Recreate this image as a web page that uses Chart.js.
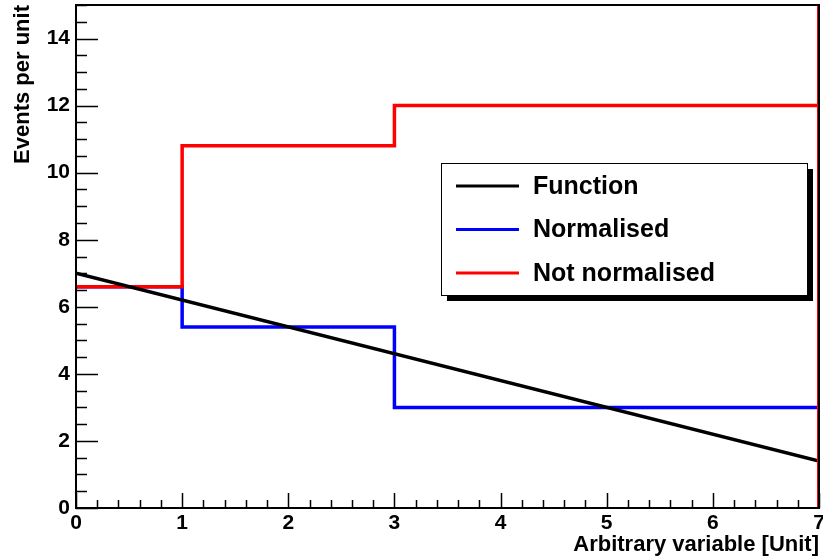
<!DOCTYPE html>
<html>
<head>
<meta charset="utf-8">
<script src="https://cdn.jsdelivr.net/npm/chart.js@4/dist/chart.umd.min.js"></script>
<style>
  html, body { margin: 0; padding: 0; background: #fff; }
  #wrap { width: 823px; height: 559px; }
</style>
</head>
<body>
<div id="wrap"><canvas id="myChart" width="823" height="559"></canvas></div>
<script>
// histogram bin edges and contents
const binEdges = [0, 1, 3, 7];
const normalised = [6.6, 5.4, 3.0];
const notNormalised = [6.6, 10.8, 12.0];

// straight line function, sampled at its two ends
const funcX = [0, 7];
const funcY = [7.0, 1.4];

const seriesNames = ['Function', 'Normalised', 'Not normalised'];
const xTitle = 'Arbitrary variable [Unit]';
const yTitle = 'Events per unit';

const FONT = '"Liberation Sans", Arial, Helvetica, sans-serif';

// bin contents -> one point at each low edge, last value repeated at the top edge
// (stepped:'before' draws the flat part first, so each bin is one segment)
function stepPoints(edges, values) {
    return edges.map((e, i) => ({ x: e, y: values[Math.min(i, values.length - 1)] }));
}

const data = {
    datasets: [
        {
            label: seriesNames[0],
            data: funcX.map((x, i) => ({ x: x, y: funcY[i] })),
            borderColor: '#000000',
            borderWidth: 3.5,
            pointRadius: 0,
            order: 0
        },
        {
            label: seriesNames[1],
            data: stepPoints(binEdges, normalised),
            borderColor: '#0000ff',
            borderWidth: 3.5,
            pointRadius: 0,
            stepped: 'before',
            order: 2
        },
        {
            label: seriesNames[2],
            data: stepPoints(binEdges, notNormalised),
            borderColor: '#ff0000',
            borderWidth: 3.5,
            pointRadius: 0,
            stepped: 'before',
            order: 1
        }
    ]
};

// frame, inward tick marks, axis titles and the ROOT style legend box
const rootStyle = {
    id: 'rootStyle',
    afterDatasetsDraw(chart) {
        const ctx = chart.ctx;
        const a = chart.chartArea;
        const xs = chart.scales.x, ys = chart.scales.y;
        ctx.save();

        // thin red outline of the histogram along bottom and right
        ctx.strokeStyle = '#ff0000';
        ctx.lineWidth = 1;
        ctx.beginPath();
        ctx.moveTo(a.left + 10, a.bottom - 0.5);
        ctx.lineTo(a.right - 1.5, a.bottom - 0.5);
        ctx.lineTo(a.right - 1.5, a.top);
        ctx.stroke();

        // frame
        ctx.strokeStyle = '#000';
        ctx.lineWidth = 2;
        ctx.strokeRect(a.left, a.top, a.right - a.left, a.bottom - a.top);

        // x ticks (major every 1, minor every 0.2)
        ctx.lineWidth = 1.5;
        ctx.beginPath();
        for (let i = 0; i <= 35; i++) {
            const px = Math.round(xs.getPixelForValue(i * 0.2)) + 0.5;
            const len = i % 5 === 0 ? 15 : 8;
            ctx.moveTo(px, a.bottom);
            ctx.lineTo(px, a.bottom - len);
        }
        // y ticks (major every 2, minor every 0.5)
        for (let i = 0; i <= 30; i++) {
            const py = Math.round(ys.getPixelForValue(i * 0.5)) + 0.5;
            const len = i % 4 === 0 ? 22 : 11;
            ctx.moveTo(a.left, py);
            ctx.lineTo(a.left + len, py);
        }
        ctx.stroke();

        // axis titles
        ctx.fillStyle = '#000';
        ctx.font = 'bold 22px ' + FONT;
        ctx.textAlign = 'right';
        ctx.textBaseline = 'alphabetic';
        ctx.fillText(xTitle, a.right, 551);

        ctx.save();
        ctx.translate(29, a.top);
        ctx.rotate(-Math.PI / 2);
        ctx.textAlign = 'right';
        ctx.fillText(yTitle, 0, 0);
        ctx.restore();

        // legend box with shadow
        const bx = 441, by = 163, bw = 366, bh = 132;
        ctx.fillStyle = '#000';
        ctx.fillRect(bx + 6, by + 6, bw, bh);
        ctx.fillStyle = '#fff';
        ctx.fillRect(bx, by, bw, bh);
        ctx.lineWidth = 1;
        ctx.strokeStyle = '#000';
        ctx.strokeRect(bx + 0.5, by + 0.5, bw, bh);

        ctx.font = 'bold 25px ' + FONT;
        ctx.textAlign = 'left';
        ctx.textBaseline = 'middle';
        chart.data.datasets.forEach((ds, i) => {
            const yy = 186 + i * 43.5;
            ctx.strokeStyle = ds.borderColor;
            ctx.lineWidth = 3;
            ctx.beginPath();
            ctx.moveTo(456, yy);
            ctx.lineTo(519, yy);
            ctx.stroke();
            ctx.fillStyle = '#000';
            ctx.fillText(ds.label, 533, yy + 1);
        });

        ctx.restore();
    }
};

const options = {
    responsive: false,
    animation: false,
    layout: { padding: { top: 5, right: 4, left: 0, bottom: 0 } },
    plugins: {
        legend: { display: false },
        tooltip: { enabled: false }
    },
    scales: {
        x: {
            type: 'linear',
            min: 0,
            max: 7,
            grid: { display: false, drawTicks: false },
            border: { display: false },
            ticks: {
                stepSize: 1,
                padding: 3,
                color: '#000',
                maxRotation: 0,
                font: { family: FONT, size: 21, weight: 'bold' }
            },
            afterFit(scale) {
                scale.height = 51;
                scale.paddingLeft = 0;
                scale.paddingRight = 0;
            }
        },
        y: {
            type: 'linear',
            min: 0,
            max: 15,
            grid: { display: false, drawTicks: false },
            border: { display: false },
            ticks: {
                stepSize: 2,
                padding: 6,
                color: '#000',
                font: { family: FONT, size: 21, weight: 'bold' }
            },
            afterBuildTicks(scale) {
                scale.ticks = scale.ticks.filter(t => t.value % 2 === 0);
            },
            afterFit(scale) {
                scale.width = 76;
                scale.paddingTop = 0;
                scale.paddingBottom = 0;
            }
        }
    }
};

window.onload = function() {
    const ctx = document.getElementById('myChart').getContext('2d');
    const myChart = new Chart(ctx, {
        type: 'line',
        data: data,
        options: options,
        plugins: [rootStyle]
    });
};
</script>
</body>
</html>
